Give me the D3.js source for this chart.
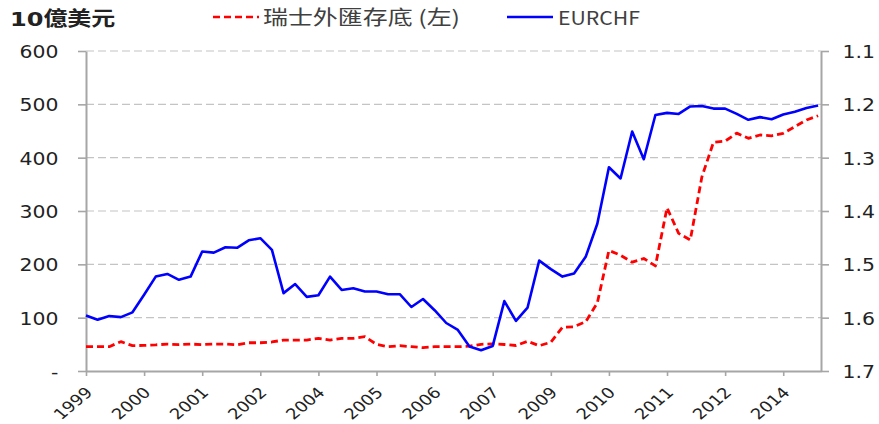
<!DOCTYPE html>
<html>
<head>
<meta charset="utf-8">
<script src="https://cdn.jsdelivr.net/npm/d3@7"></script>
<style>
  body { margin: 0; background: #fff; }
  svg { display: block; }
</style>
</head>
<body>
<script>
// Quarterly observations, 1999Q1 .. 2014Q4
const tickLabels = ["1999", "2000", "2001", "2002", "2004", "2005", "2006",
                    "2007", "2009", "2010", "2011", "2012", "2014"];

// Swiss FX reserves, billions of USD (left axis)
const reserves = [45.6, 45.6, 45.6, 55, 47.5, 48, 49, 50.5, 49.5, 50.5, 49.5, 50.5,
                  50.5, 49, 53, 53, 54.4, 58, 58, 58, 61.3, 58, 61.3, 61.3,
                  64.3, 50, 45.6, 47.4, 45.6, 43.7, 45.6, 45.6, 45.6, 46.5, 50, 51,
                  49.7, 47.8, 55.7, 47.4, 54, 82, 83, 92.4, 127.5, 226, 217, 204,
                  211, 197, 306, 258, 245.6, 364, 429, 431, 446, 436.3, 442.5, 441, 445.7,
                  458, 470.6, 478.7];

// EUR/CHF exchange rate (right axis, inverted)
const eurchf = [1.596, 1.604, 1.597, 1.599, 1.590, 1.557, 1.523, 1.518, 1.529, 1.523,
                1.476, 1.478, 1.468, 1.469, 1.455, 1.451, 1.473, 1.554, 1.537, 1.561,
                1.558, 1.523, 1.548, 1.545, 1.551, 1.551, 1.556, 1.556, 1.580, 1.565,
                1.586, 1.610, 1.623, 1.654, 1.661, 1.653, 1.569, 1.606, 1.581, 1.493,
                1.509, 1.523, 1.517, 1.486, 1.424, 1.318, 1.339, 1.251, 1.303, 1.220,
                1.216, 1.218, 1.204, 1.203, 1.208, 1.208, 1.218, 1.229, 1.224, 1.228,
                1.219, 1.214, 1.207, 1.202];

const leftTicks = [0, 100, 200, 300, 400, 500, 600];
const rightTicks = [1.1, 1.2, 1.3, 1.4, 1.5, 1.6, 1.7];

const W = 879, H = 424;
const M = { left: 86, right: 821, top: 51, bottom: 371 };
const SX = 1.2;                         // horizontal stretch of all lettering
const axisColor = "#a6a6a6";
const latin = "'DejaVu Sans', Verdana, sans-serif";
const cjkTitle = "'DejaVu Sans', 'Noto Sans CJK TC', sans-serif";
const cjkLegend = "'Noto Sans CJK TC', sans-serif";

const svg = d3.select("body").append("svg").attr("width", W).attr("height", H);

const x = d3.scaleLinear().domain([0, 63.25]).range([M.left, M.right]);
const yL = d3.scaleLinear().domain([0, 600]).range([M.bottom, M.top]);
const yR = d3.scaleLinear().domain([1.1, 1.7]).range([M.top, M.bottom]);

// dashed horizontal gridlines
svg.append("g").selectAll("line").data(leftTicks.filter(d => d > 0)).join("line")
  .attr("x1", M.left).attr("x2", M.right)
  .attr("y1", d => yL(d)).attr("y2", d => yL(d))
  .attr("stroke", "#c4c4c4").attr("stroke-width", 1.2)
  .attr("stroke-dasharray", "8,4");

function styleAxis(g) {
  g.selectAll(".domain").attr("stroke", axisColor).attr("stroke-width", 2);
  g.selectAll(".tick line").attr("stroke", axisColor).attr("stroke-width", 1.6);
  g.selectAll("text").attr("font-family", latin).attr("font-size", 17).attr("fill", "#222");
}

// left axis
const gL = svg.append("g").attr("transform", `translate(${M.left},0)`)
  .call(d3.axisLeft(yL).tickValues(leftTicks).tickSize(8).tickSizeOuter(0)
    .tickFormat(d => d === 0 ? "-" : d));
styleAxis(gL);
gL.selectAll("text").attr("x", -23).attr("dy", "0.38em").attr("transform", `scale(${SX},1)`);

// right axis
const gR = svg.append("g").attr("transform", `translate(${M.right},0)`)
  .call(d3.axisRight(yR).tickValues(rightTicks).tickSize(8).tickSizeOuter(0)
    .tickFormat(d3.format(".1f")));
styleAxis(gR);
gR.selectAll("text").attr("x", 18).attr("dy", "0.38em").attr("transform", `scale(${SX},1)`);

// bottom axis, one label every five quarters
const gX = svg.append("g").attr("transform", `translate(0,${M.bottom})`)
  .call(d3.axisBottom(x).tickValues(d3.range(0, 61, 5)).tickSize(5).tickSizeOuter(0)
    .tickFormat((d, i) => tickLabels[i]));
styleAxis(gX);
gX.selectAll("text")
  .attr("x", null).attr("y", null).attr("dy", null)
  .attr("font-size", 15)
  .attr("text-anchor", "end")
  .attr("transform", `translate(7,22.5) scale(${SX},1) rotate(-45)`);

// series
const lineL = d3.line().x((d, i) => x(i)).y(d => yL(d));
const lineR = d3.line().x((d, i) => x(i)).y(d => yR(d));

svg.append("path").datum(reserves).attr("d", lineL)
  .attr("fill", "none").attr("stroke", "#ff0000").attr("stroke-width", 2.8)
  .attr("stroke-dasharray", "7,4").attr("stroke-linejoin", "round");

svg.append("path").datum(eurchf).attr("d", lineR)
  .attr("fill", "none").attr("stroke", "#0000ff").attr("stroke-width", 2.6)
  .attr("stroke-linejoin", "round");

// unit title
svg.append("g").attr("transform", "translate(10,26)")
  .append("text").attr("transform", `scale(${SX},1)`)
  .attr("font-family", cjkTitle).attr("font-size", 20).attr("font-weight", "bold")
  .attr("fill", "#222").text("10億美元");

// legend
const legend = [
  { label: "瑞士外匯存底 (左)", color: "#ff0000", dash: "7,4", x0: 213, x1: 259, tx: 263, w: 197, fs: 20 },
  { label: "EURCHF", color: "#0000ff", dash: null, x0: 507, x1: 553, tx: 558, w: 82, fs: 18.5 }
];
const lg = svg.append("g");
legend.forEach(l => {
  lg.append("line").attr("x1", l.x0).attr("x2", l.x1).attr("y1", 17).attr("y2", 17)
    .attr("stroke", l.color).attr("stroke-width", 2.6)
    .attr("stroke-dasharray", l.dash);
  lg.append("text").attr("x", l.tx).attr("y", 25)
    .attr("textLength", l.w).attr("lengthAdjust", "spacingAndGlyphs")
    .attr("font-family", cjkLegend).attr("font-size", l.fs).attr("fill", "#404040")
    .text(l.label);
});
</script>
</body>
</html>
